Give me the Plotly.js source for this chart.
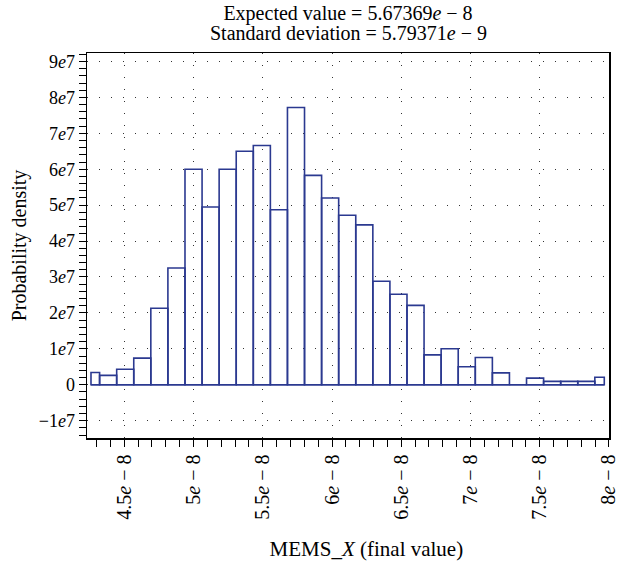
<!DOCTYPE html>
<html>
<head>
<meta charset="utf-8">
<script src="https://cdn.plot.ly/plotly-3.0.1.min.js"></script>
<style>
  html, body { margin: 0; padding: 0; background: #ffffff; }
  #chart { width: 632px; height: 565px; }
</style>
</head>
<body>
<div id="chart"></div>
<script>
// Histogram bin edges
const binEdges = [
  4.2597e-8, 4.3219e-8, 4.4452e-8, 4.5685e-8, 4.6918e-8, 4.8151e-8, 4.9385e-8,
  5.0618e-8, 5.1851e-8, 5.3084e-8, 5.4317e-8, 5.5550e-8, 5.6783e-8, 5.8016e-8,
  5.9249e-8, 6.0482e-8, 6.1716e-8, 6.2949e-8, 6.4182e-8, 6.5415e-8, 6.6648e-8,
  6.7881e-8, 6.9114e-8, 7.0347e-8, 7.1580e-8, 7.2813e-8, 7.4047e-8, 7.5280e-8,
  7.6513e-8, 7.7746e-8, 7.8979e-8, 7.9661e-8
];
// Probability density of each bin
const densities = [
  3.4e6, 2.6e6, 4.3e6, 7.4e6, 2.13e7, 3.25e7, 6.0e7, 4.95e7, 6.0e7, 6.5e7,
  6.66e7, 4.87e7, 7.72e7, 5.83e7, 5.2e7, 4.72e7, 4.45e7, 2.88e7, 2.52e7, 2.21e7,
  8.3e6, 1.0e7, 5.0e6, 7.6e6, 3.3e6, 0, 1.85e6, 9.3e5, 9.3e5, 9.3e5, 2.1e6
];
// Tick values and labels
const xTickVals = [4.5e-8, 5e-8, 5.5e-8, 6e-8, 6.5e-8, 7e-8, 7.5e-8, 8e-8];
const xTickText = ["4.5<i>e</i> − 8", "5<i>e</i> − 8", "5.5<i>e</i> − 8", "6<i>e</i> − 8",
                   "6.5<i>e</i> − 8", "7<i>e</i> − 8", "7.5<i>e</i> − 8", "8<i>e</i> − 8"];
const yTickVals = [-1e7, 0, 1e7, 2e7, 3e7, 4e7, 5e7, 6e7, 7e7, 8e7, 9e7];
const yTickText = ["−1<i>e</i>7", "0", "1<i>e</i>7", "2<i>e</i>7", "3<i>e</i>7", "4<i>e</i>7",
                   "5<i>e</i>7", "6<i>e</i>7", "7<i>e</i>7", "8<i>e</i>7", "9<i>e</i>7"];
const titleLine1 = "Expected value = 5.67369<i>e</i> − 8";
const titleLine2 = "Standard deviation = 5.79371<i>e</i> − 9";
const xTitle = "MEMS_<i>X</i> (final value)";
const yTitle = "Probability density";

const centers = [], widths = [];
for (let i = 0; i < densities.length; i++) {
  centers.push((binEdges[i] + binEdges[i + 1]) / 2);
  widths.push(binEdges[i + 1] - binEdges[i]);
}
const barColor = "#2b3990";
const FONT = "Liberation Serif, Times New Roman, serif";

const traces = [
  {
    type: "scatter", mode: "lines",
    x: [binEdges[0], binEdges[binEdges.length - 1]], y: [0, 0],
    line: { color: barColor, width: 1.6 }, hoverinfo: "skip", showlegend: false
  },
  {
    type: "bar", x: centers, y: densities, width: widths,
    marker: { color: "rgba(0,0,0,0)", line: { color: barColor, width: 1.6 } },
    showlegend: false
  }
];

const gridStyle = { showgrid: true, gridcolor: "#333333", gridwidth: 1, griddash: "1px,11px" };

const layout = {
  width: 632, height: 565,
  margin: { l: 87, r: 23, t: 53, b: 127 },
  paper_bgcolor: "#ffffff", plot_bgcolor: "#ffffff",
  font: { family: FONT, size: 18, color: "#000000" },
  showlegend: false,
  bargap: 0,
  title: {
    text: titleLine1, x: 0.5, xref: "paper", xanchor: "center",
    y: 1 - 12.5 / 565, yref: "container", yanchor: "middle",
    font: { family: FONT, size: 20, color: "#000000" }
  },
  annotations: [{
    text: titleLine2, xref: "paper", yref: "paper", x: 0.5, y: 1 + 20 / 384.5,
    xanchor: "center", yanchor: "middle", showarrow: false,
    font: { family: FONT, size: 20, color: "#000000" }
  }],
  xaxis: Object.assign({
    range: [4.2309e-8, 8.0002e-8],
    tickmode: "array", tickvals: xTickVals, ticktext: xTickText,
    tickangle: -90, ticks: "outside", ticklen: 7, tickwidth: 1, tickcolor: "#000",
    tickfont: { family: FONT, size: 20, color: "#000" },
    minor: { tickmode: "linear", tick0: 4.5e-8, dtick: 1e-9, ticks: "outside", ticklen: 7, tickwidth: 1, tickcolor: "#000", showgrid: false },
    showline: true, linecolor: "#000", linewidth: 1.5, mirror: true,
    zeroline: false,
    title: { text: "&nbsp;&nbsp;&nbsp;&nbsp;&nbsp;&nbsp;&nbsp;" + xTitle, standoff: 22, font: { family: FONT, size: 21, color: "#000" } }
  }, gridStyle),
  yaxis: Object.assign({
    range: [-1.483e7, 9.236e7],
    tickmode: "array", tickvals: yTickVals, ticktext: yTickText,
    ticks: "outside", ticklen: 7, tickwidth: 1, tickcolor: "#000",
    tickfont: { family: FONT, size: 18, color: "#000" },
    minor: { tickmode: "linear", tick0: 0, dtick: 2e6, ticks: "outside", ticklen: 7, tickwidth: 1, tickcolor: "#000", showgrid: false },
    showline: true, linecolor: "#000", linewidth: 1.5, mirror: true,
    zeroline: false,
    title: { text: yTitle, standoff: 6, font: { family: FONT, size: 20, color: "#000" } }
  }, gridStyle)
};

Plotly.newPlot("chart", traces, layout, { displayModeBar: false, staticPlot: true });
</script>
</body>
</html>
